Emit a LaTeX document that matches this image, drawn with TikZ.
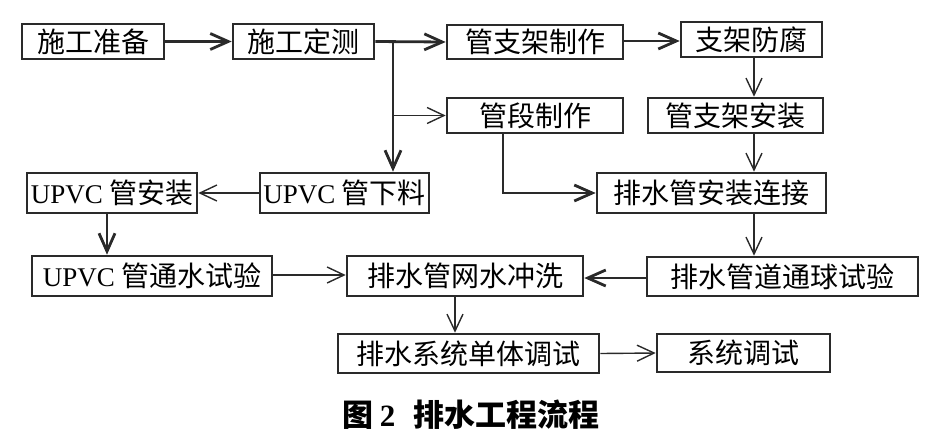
\documentclass[tikz,border=0pt]{standalone}
\usepackage{fontspec}
\setmainfont{Liberation Serif}
\newfontfamily\cjk{Noto Sans CJK SC}
\usetikzlibrary{arrows.meta,calc}
\definecolor{ink}{HTML}{2A2A2A}
\newcommand{\lat}[1]{{\rmfamily\fontsize{27}{30}\selectfont #1}}
\tikzset{
  box/.style={draw=ink,line width=2.6pt,fill=white,inner sep=0pt,
    font=\cjk\fontsize{28}{32}\selectfont,text=black},
  thickarr/.style={draw=ink,line width=2.8pt,-{Straight Barb[length=18pt,width=16pt]}},
  thinarr/.style={draw=ink,line width=1.4pt,-{Straight Barb[length=17pt,width=16pt]}},
}
\begin{document}
\begin{tikzpicture}[x=1pt,y=-1pt]
\useasboundingbox (0,0) rectangle (942,432);
\node[box,minimum width=142pt,minimum height=35pt] (n1) at (93,41.5) {施工准备};
\node[box,minimum width=141pt,minimum height=35pt] (n2) at (303.5,41.5) {施工定测};
\node[box,minimum width=176pt,minimum height=34pt] (n3) at (535,42) {管支架制作};
\node[box,minimum width=141pt,minimum height=35pt] (n4) at (751.5,39.5) {支架防腐};
\node[box,minimum width=176pt,minimum height=35pt] (n5) at (535,115.5) {管段制作};
\node[box,minimum width=175pt,minimum height=35pt] (n6) at (735.5,115.5) {管支架安装};
\node[box,minimum width=170pt,minimum height=40pt] (n7) at (112,193) {\lat{UPVC} 管安装};
\node[box,minimum width=169pt,minimum height=40pt] (n8) at (344.5,193) {\lat{UPVC} 管下料};
\node[box,minimum width=229pt,minimum height=40pt] (n9) at (711.5,193) {排水管安装连接};
\node[box,minimum width=240pt,minimum height=40pt] (n10) at (152,276) {\lat{UPVC} 管通水试验};
\node[box,minimum width=236pt,minimum height=40pt] (n11) at (465,276) {排水管网水冲洗};
\node[box,minimum width=271pt,minimum height=39pt] (n12) at (782.5,276.5) {排水管道通球试验};
\node[box,minimum width=261pt,minimum height=39pt] (n13) at (468.5,353.5) {排水系统单体调试};
\node[box,minimum width=173pt,minimum height=38pt] (n14) at (743.5,353) {系统调试};
\node[font=\cjk\bfseries\fontsize{31}{34}\selectfont,inner sep=0pt] (cap) at (471,415)
  {图\hspace{6pt}{\rmfamily\bfseries 2}\hspace{18pt}排水工程流程};

\coordinate (b) at (393,42);
\coordinate (d) at (503,193);
\coordinate (v) at (754,0);
\coordinate (w) at (455,0);
\coordinate (u) at (107,0);
\coordinate (h1) at (0,41);
\coordinate (h2) at (0,278);
\coordinate (h3) at (0,275);

\draw[thickarr] (n1.east) -- (n2.west);
\draw[thickarr] (n2.east) -- (n3.west);
\draw[thickarr] (b) -- (b |- n8.north);
\draw[thinarr] (b |- n5.west) -- (n5.west);
\draw[thickarr] (n3.east |- h1) -- (n4.west |- h1);
\draw[thinarr] (v |- n4.south) -- (v |- n6.north);
\draw[thinarr] (v |- n6.south) -- (v |- n9.north);
\draw[thickarr] (d |- n5.south) -- (d) -- (n9.west);
\draw[thinarr] (n8.west) -- (n7.east);
\draw[thickarr] (u |- n7.south) -- (u |- n10.north);
\draw[thinarr] (v |- n9.south) -- (v |- n12.north);
\draw[thickarr] (n12.west |- h2) -- (n11.east |- h2);
\draw[thinarr] (n10.east |- h3) -- (n11.west |- h3);
\draw[thinarr] (w |- n11.south) -- (w |- n13.north);
\draw[thinarr] (n13.east) -- (n14.west);
\end{tikzpicture}
\end{document}
